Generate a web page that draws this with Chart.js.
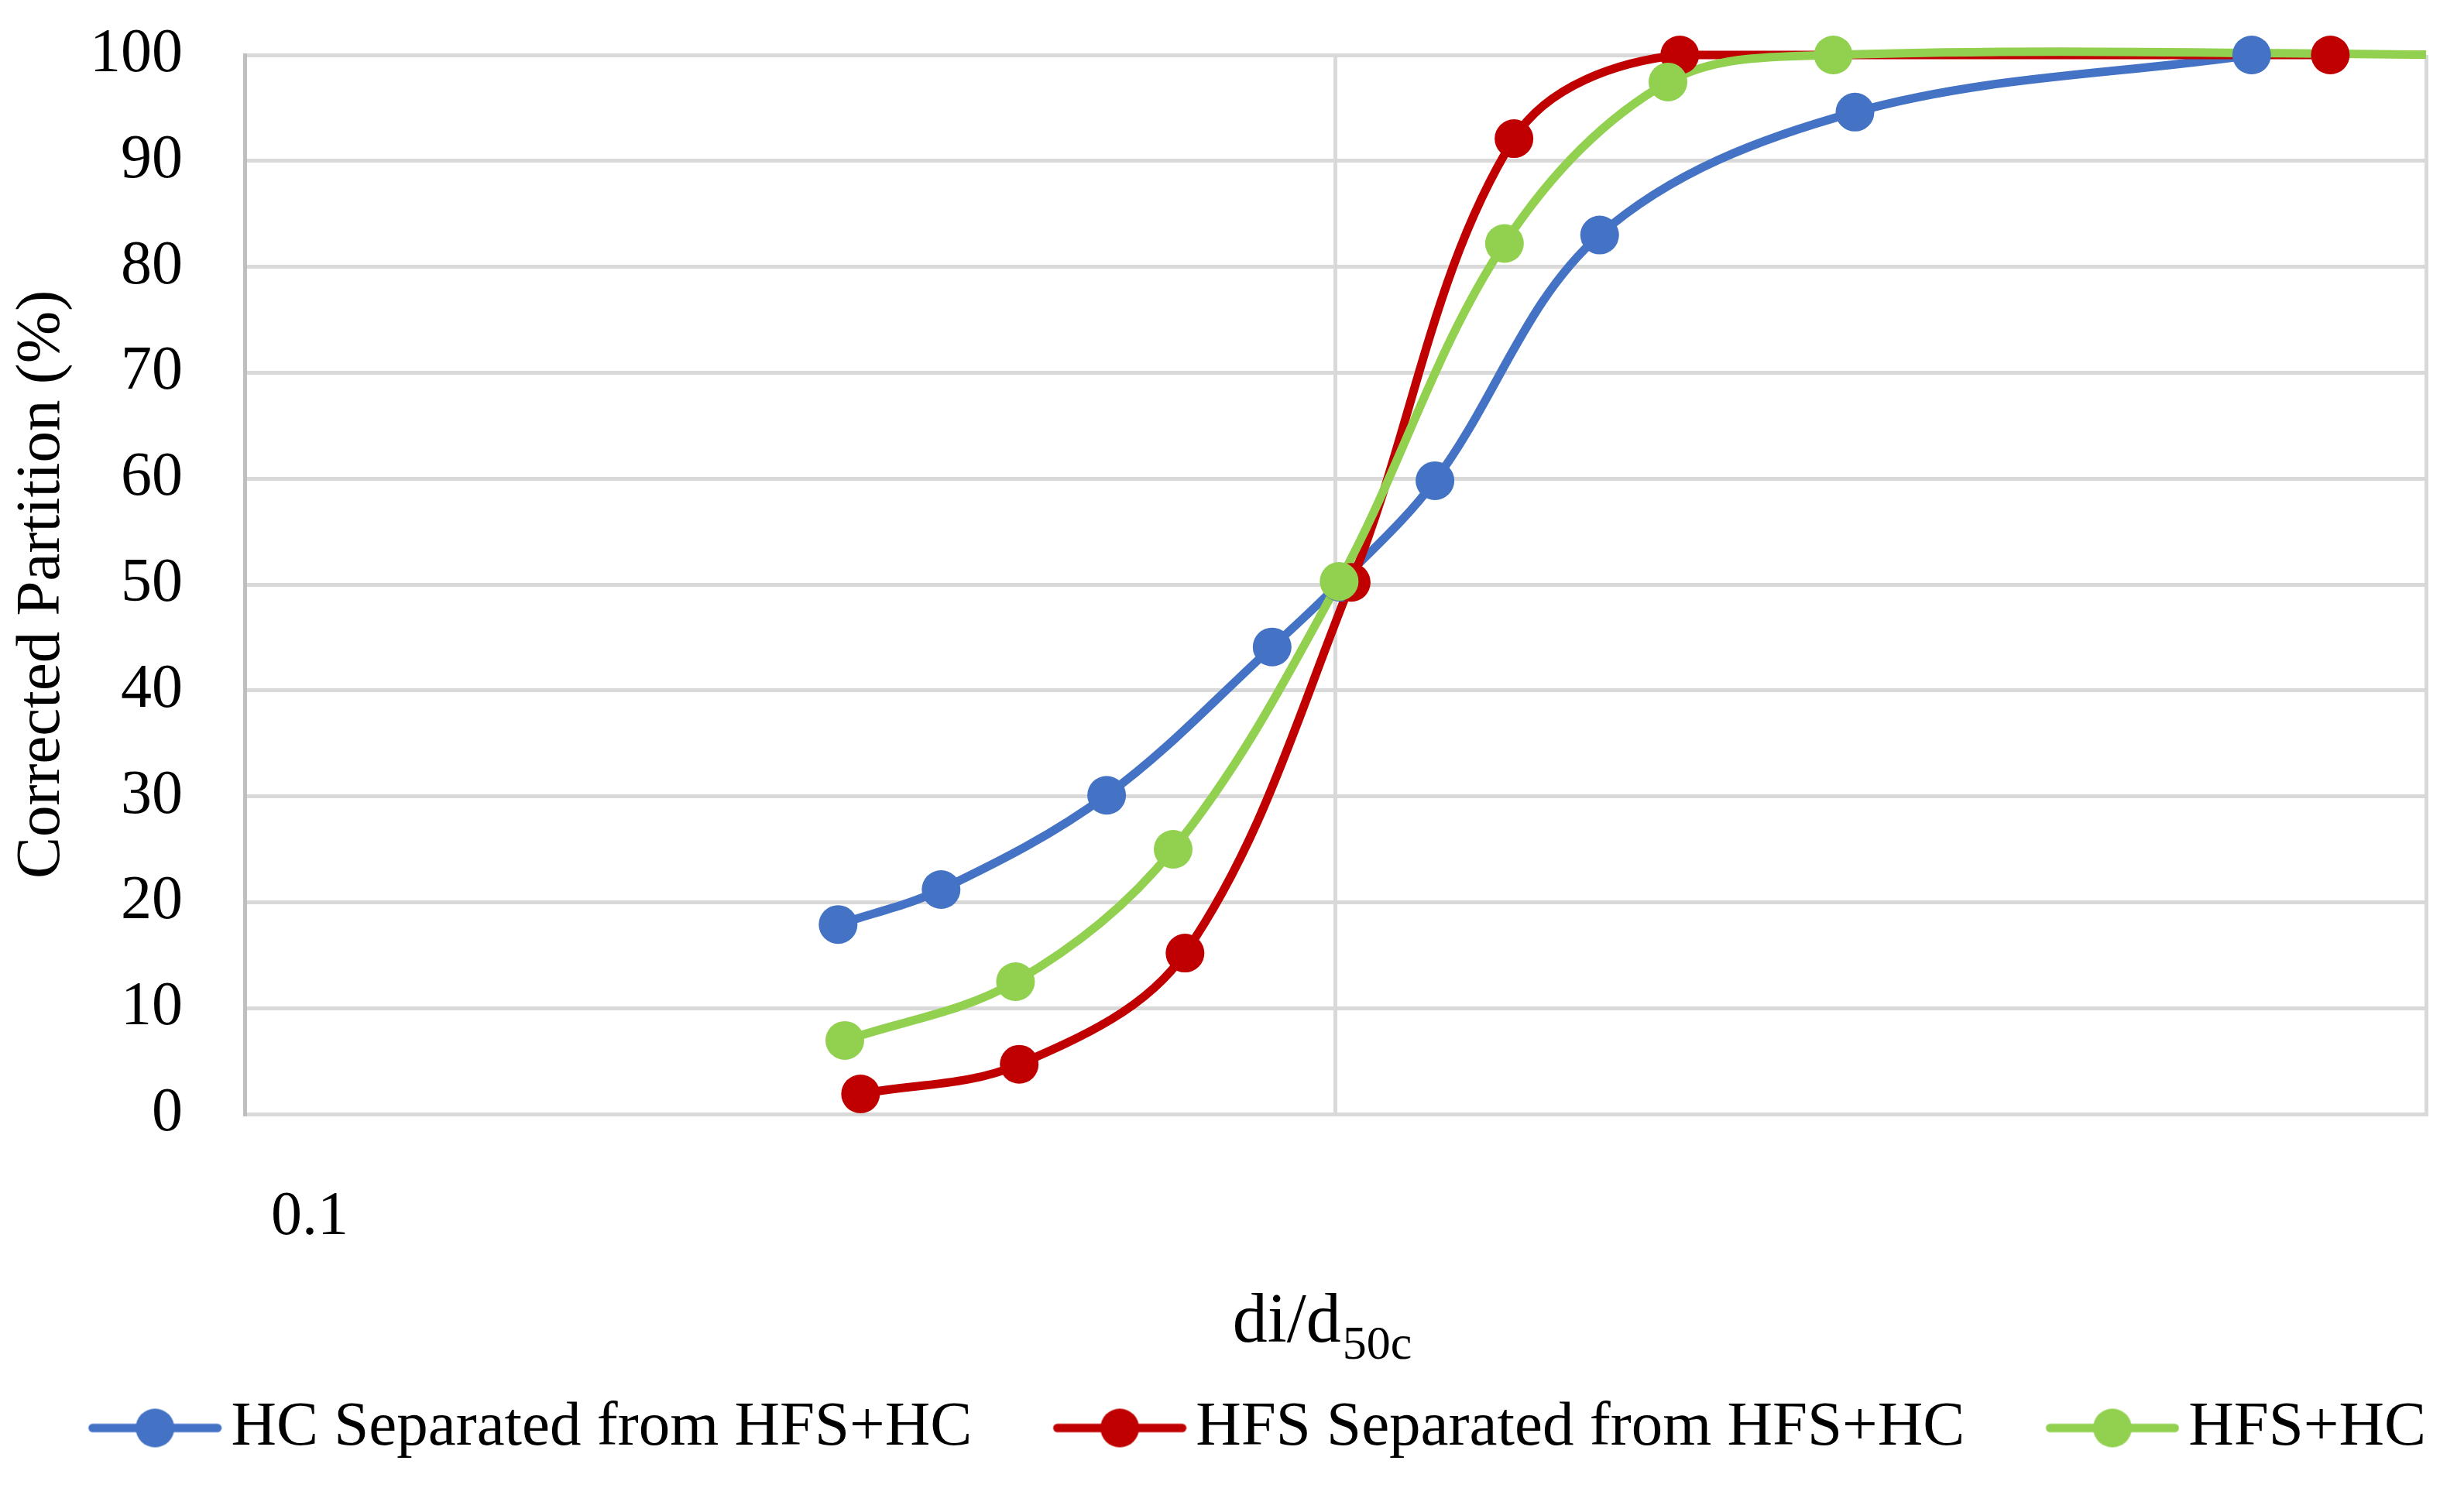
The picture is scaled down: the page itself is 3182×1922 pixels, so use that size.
<!DOCTYPE html>
<html>
<head>
<meta charset="utf-8">
<script src="https://cdn.jsdelivr.net/npm/chart.js@4.4.1/dist/chart.umd.min.js"></script>
<style>
  html, body { margin: 0; padding: 0; background: #fff; }
</style>
</head>
<body>
<canvas id="chart" width="3182" height="1922"></canvas>
<script>
// values (x = di/d50c, y = corrected partition %)
const hcX  = [0.35, 0.435, 0.617, 0.875, 1.01, 1.234, 1.747, 2.995, 6.92];
const hcY  = [17.9, 21.2, 30.1, 44.1, 50.2, 59.8, 83.0, 94.6, 100];
const hfsX = [0.367, 0.513, 0.728, 1.034, 1.458, 2.069, 8.17];
const hfsY = [1.9, 4.7, 15.2, 50.2, 92.1, 100, 100];
const mixX = [0.355, 0.509, 0.71, 1.008, 1.429, 2.018, 2.861, 12];
const mixY = [6.95, 12.5, 25.0, 50.3, 82.2, 97.45, 100, 100];

const seriesNames = ["HC Separated from HFS+HC", "HFS Separated from HFS+HC", "HFS+HC"];
const seriesColors = ["#4472C4", "#C00000", "#92D050"];

const xGridTicks = [0.1, 1, 10];
const xLabelTicks = [0.1];
const yTitle = "Corrected Partition (%)";
const xTitleMain = "di/d";
const xTitleSub = "50c";

const FONT = '"Liberation Serif", "DejaVu Serif", serif';

function toPoints(xs, ys) {
  return xs.map((x, i) => ({ x: x, y: ys[i] }));
}

// legend icon: line with a dot in the middle, drawn on a small canvas
function makeIcon(color) {
  const w = 306, h = 60, lineLen = 173;
  const c = document.createElement("canvas");
  c.width = w;
  c.height = h;
  const g = c.getContext("2d");
  g.strokeStyle = color;
  g.lineWidth = 11;
  g.lineCap = "round";
  g.beginPath();
  g.moveTo(w - lineLen + 6, h / 2);
  g.lineTo(w - 6, h / 2);
  g.stroke();
  g.fillStyle = color;
  g.beginPath();
  g.arc(w - lineLen / 2, h / 2, 25, 0, Math.PI * 2);
  g.fill();
  return c;
}
const icons = seriesColors.map(makeIcon);

const allX = [hcX, hfsX, mixX];
const allY = [hcY, hfsY, mixY];

const lineSets = seriesNames.map((name, i) => ({
  label: name,
  data: toPoints(allX[i], allY[i]),
  showLine: true,
  borderColor: seriesColors[i],
  backgroundColor: seriesColors[i],
  borderWidth: 11,
  borderCapStyle: "round",
  borderJoinStyle: "round",
  tension: 0.35,
  pointRadius: 0,
  pointHoverRadius: 0,
  order: 5 - i,
  clip: { left: 10, top: 10, right: 0, bottom: 10 }
}));

const markerSets = seriesNames.map((name, i) => ({
  label: name + " markers",
  data: toPoints(allX[i], allY[i]),
  showLine: false,
  backgroundColor: seriesColors[i],
  borderColor: seriesColors[i],
  borderWidth: 0,
  pointRadius: 25,
  pointHoverRadius: 25,
  order: 2 - i,
  clip: { left: 30, top: 30, right: 0, bottom: 30 }
}));

// x axis title with subscript
const xTitlePlugin = {
  id: "xTitle",
  afterDraw(chart) {
    const { ctx, chartArea } = chart;
    ctx.save();
    ctx.fillStyle = "#000";
    ctx.textBaseline = "alphabetic";
    ctx.textAlign = "left";
    ctx.font = "90px " + FONT;
    const mainW = ctx.measureText(xTitleMain).width;
    ctx.font = "62px " + FONT;
    const subW = ctx.measureText(xTitleSub).width;
    const cx = (chartArea.left + chartArea.right) / 2 - 18;
    const left = cx - (mainW + subW) / 2;
    const base = chartArea.bottom + 294;
    ctx.font = "90px " + FONT;
    ctx.fillText(xTitleMain, left, base);
    ctx.font = "62px " + FONT;
    ctx.fillText(xTitleSub, left + mainW + 2, base + 22);
    ctx.restore();
  }
};

const ctx = document.getElementById("chart").getContext("2d");
const chart = new Chart(ctx, {
  type: "scatter",
  data: { datasets: lineSets.concat(markerSets) },
  plugins: [xTitlePlugin],
  options: {
    responsive: false,
    animation: false,
    devicePixelRatio: 1,
    layout: { padding: { left: 0, right: 49, top: 71, bottom: 27 } },
    font: { family: FONT },
    plugins: {
      tooltip: { enabled: false },
      legend: {
        position: "bottom",
        align: "end",
        labels: {
          usePointStyle: true,
          pointStyleWidth: 248.5,
          padding: 0,
          color: "#000",
          font: { size: 81, family: FONT },
          filter: (item) => item.datasetIndex < 3,
          sort: (a, b) => a.datasetIndex - b.datasetIndex,
          generateLabels(chart) {
            const items = Chart.defaults.plugins.legend.labels.generateLabels(chart);
            items.forEach(it => {
              if (it.datasetIndex < 3) it.pointStyle = icons[it.datasetIndex];
            });
            return items;
          }
        }
      }
    },
    scales: {
      x: {
        type: "logarithmic",
        min: 0.1,
        max: 10,
        afterBuildTicks(scale) {
          scale.ticks = xGridTicks.map(v => ({ value: v }));
        },
        afterFit(scale) { scale.height = 365; },
        grid: { color: "#D9D9D9", lineWidth: 5, drawTicks: true, tickLength: 86, tickColor: "rgba(0,0,0,0)" },
        border: { display: true, color: "#D9D9D9", width: 5 },
        ticks: {
          autoSkip: false,
          maxRotation: 0,
          padding: 0,
          labelOffset: 84,
          color: "#000",
          font: { size: 80, family: FONT },
          callback: (v) => xLabelTicks.includes(v) ? String(v) : ""
        },
        title: { display: false }
      },
      y: {
        min: 0,
        max: 100,
        afterFit(scale) { scale.width = 316; },
        grid: { color: "#D9D9D9", lineWidth: 5, drawTicks: true, tickLength: 80, tickColor: "rgba(0,0,0,0)" },
        border: { display: true, color: "#BFBFBF", width: 5 },
        ticks: {
          stepSize: 10,
          padding: 0,
          color: "#000",
          font: { size: 80, family: FONT }
        },
        title: {
          display: true,
          text: yTitle,
          color: "#000",
          font: { size: 81, family: FONT },
          padding: { top: 6, bottom: 0 }
        }
      }
    }
  }
});
</script>
</body>
</html>
